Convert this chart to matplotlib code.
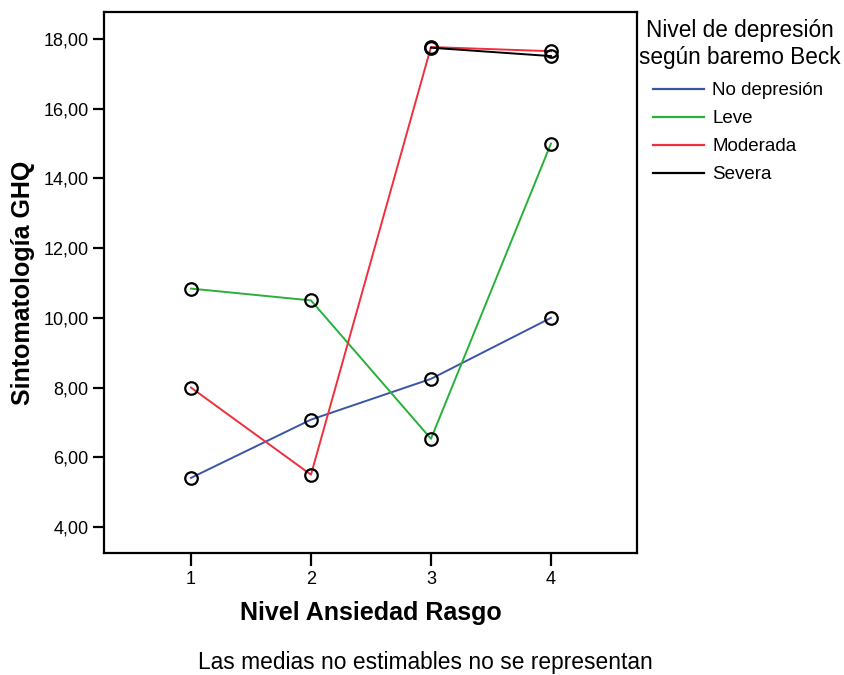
import matplotlib
matplotlib.use("Agg")
import matplotlib.pyplot as plt
from matplotlib.lines import Line2D

plt.rcParams['font.family'] = ['Liberation Sans', 'DejaVu Sans']

niveles = [1, 2, 3, 4]
series_names = ["No depresión", "Leve", "Moderada", "Severa"]
no_depresion = [5.41, 7.08, 8.25, 10.0]
leve = [10.84, 10.5, 6.53, 15.0]
moderada = [8.0, 5.5, 17.77, 17.65]
severa_x = [3, 4]
severa = [17.75, 17.51]
y_ticks = [4, 6, 8, 10, 12, 14, 16, 18]
colors = ["#3a55a6", "#27b03a", "#ee2f3c", "#000000"]

fig = plt.figure(figsize=(8.44, 6.75), dpi=100)
ax = fig.add_axes([104/844, 1-553/675, (637-104)/844, (553-12)/675])

data = [(niveles, no_depresion), (niveles, leve), (niveles, moderada), (severa_x, severa)]
handles = []
for (xs, ys), name, c in zip(data, series_names, colors):
    ax.plot(xs, ys, color=c, lw=1.4, zorder=2)
    handles.append(Line2D([], [], color=c, lw=1.6, label=name))
for xs, ys in data:
    ax.plot(xs, ys, ls='none', marker='o', ms=9, mfc='none', mec='black', mew=1.6, zorder=3)

ax.set_xlim(0.275, 4.717)
ax.set_ylim(3.254, 18.775)
ax.set_xticks(niveles)
ax.set_xticklabels([str(v) for v in niveles])
ax.set_yticks(y_ticks)
ax.set_yticklabels([f"{v},00" for v in y_ticks])
for s in ax.spines.values():
    s.set_linewidth(1.6)
ax.tick_params(axis='both', direction='out', length=9, width=1.6, labelsize=13, colors='black', pad=4)
ax.tick_params(axis='y', length=8, pad=3)

ax.set_xlabel("Nivel Ansiedad Rasgo", fontsize=18, fontweight='bold', labelpad=9)
ax.set_ylabel("Sintomatología GHQ", fontsize=18, fontweight='bold', labelpad=6)

fig.text(425/844, 1-663/675, "Las medias no estimables no se representan",
         ha='center', va='center', fontsize=16.4)

# legend title set as centred two-line text above the entries
fig.text(740/844, 1-44/675, "Nivel de depresión\nsegún baremo Beck",
         ha='center', va='center', multialignment='center', fontsize=16.3, linespacing=1.22)

fig.legend(handles=handles, loc='upper left', bbox_to_anchor=(653/844, 1-82/675),
           frameon=False, fontsize=13.5, handlelength=2.7, handletextpad=0.45,
           labelspacing=0.58, borderaxespad=0, borderpad=0)

fig.savefig("out.png", dpi=100, facecolor='white')
